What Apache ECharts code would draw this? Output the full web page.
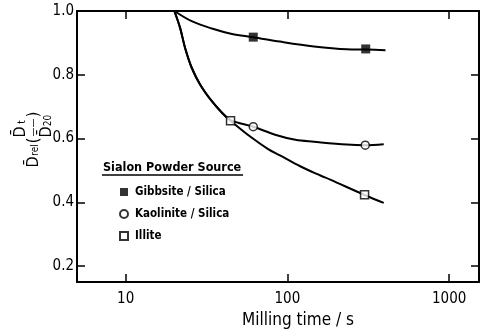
<!DOCTYPE html>
<html>
<head>
<meta charset="utf-8">
<script src="https://cdn.jsdelivr.net/npm/echarts@6/dist/echarts.min.js"></script>
<style>
  html, body { margin: 0; padding: 0; background: #fff; }
  #chart { width: 483px; height: 333px; }
</style>
</head>
<body>
<div id="chart"></div>
<script>
// curves (milling time in s, relative size)
const gibbsiteCurveX = [20, 25.6, 34.1, 45.4, 61.5, 90, 146, 233, 310, 404]
const gibbsiteCurveY = [1.0, 0.968, 0.945, 0.928, 0.918, 0.904, 0.889, 0.880, 0.879, 0.877]

const kaoliniteCurveX = [20, 21.7, 23.3, 25.6, 28.9, 34.1, 39.4, 44.5, 61.5, 84, 112, 146, 233, 303, 394]
const kaoliniteCurveY = [1.0, 0.947, 0.884, 0.822, 0.769, 0.717, 0.681, 0.658, 0.637, 0.612, 0.596, 0.590, 0.581, 0.579, 0.582]

const illiteCurveX = [20, 21.7, 23.3, 25.6, 28.9, 34.1, 39.4, 44.5, 60, 76, 90, 120, 160, 184, 300, 394]
const illiteCurveY = [1.0, 0.947, 0.884, 0.822, 0.769, 0.717, 0.681, 0.656, 0.603, 0.567, 0.547, 0.513, 0.484, 0.471, 0.423, 0.398]

// measured points
const gibbsitePtsX = [61.5, 305]
const gibbsitePtsY = [0.918, 0.881]
const kaolinitePtsX = [61.5, 303]
const kaolinitePtsY = [0.637, 0.579]
const illitePtsX = [44.5, 300]
const illitePtsY = [0.656, 0.424]

const yTicks = [0.2, 0.4, 0.6, 0.8, 1.0]
const seriesNames = ['Gibbsite / Silica', 'Kaolinite / Silica', 'Illite']

const FONT = 'DejaVu Sans Condensed'

const pairs = (xs, ys) => xs.map((x, i) => [x, ys[i]])

const chart = echarts.init(document.getElementById('chart'))

const xBase = {
  type: 'log',
  logBase: 10,
  min: 5,
  max: 1530,
  axisLine: { lineStyle: { color: '#000', width: 2 } },
  axisTick: { inside: true, length: 8, lineStyle: { color: '#000', width: 1.5 } },
  minorTick: { show: false },
  splitLine: { show: false }
}

const yBase = {
  type: 'value',
  min: 0.15,
  max: 1.0,
  axisLine: { show: true, lineStyle: { color: '#000', width: 2 } },
  axisTick: { inside: true, length: 8, customValues: yTicks, lineStyle: { color: '#000', width: 1.5 } },
  splitLine: { show: false }
}

const curveStyle = {
  type: 'line',
  smooth: 0.35,
  symbol: 'none',
  lineStyle: { color: '#000', width: 2 },
  silent: true,
  z: 2
}

// y axis title: D̄rel ( D̄t / D̄20 ), every line 70px wide so they stack
const yName = [
  '{g1|}{n|D\u0304}{st|t}{g2|}',
  '{g0|}{n|D\u0304}{sr|rel}{p|(}{bar|——}{p|)}',
  '{g1|}{n|D\u0304}{s20|20}{g3|}'
].join('\n')

const LH = 13
const richName = {
  g0: { width: 14, lineHeight: LH },
  g1: { width: 44, lineHeight: LH },
  g2: { width: 6, lineHeight: LH },
  g3: { width: 3, lineHeight: LH },
  n: { fontSize: 16, fontFamily: FONT, color: '#000', width: 11, lineHeight: LH },
  st: { fontSize: 10, fontFamily: FONT, color: '#000', verticalAlign: 'bottom', width: 9, lineHeight: LH },
  s20: { fontSize: 10, fontFamily: FONT, color: '#000', verticalAlign: 'bottom', width: 12, lineHeight: LH },
  sr: { fontSize: 10, fontFamily: FONT, color: '#000', verticalAlign: 'bottom', width: 13, lineHeight: LH },
  p: { fontSize: 16, fontFamily: FONT, color: '#000', width: 6, lineHeight: LH },
  bar: { fontSize: 10, fontFamily: FONT, color: '#000', width: 20, lineHeight: LH }
}

const option = {
  animation: false,
  textStyle: { fontFamily: FONT },
  grid: { left: 77, right: 4, top: 11, bottom: 51, containLabel: false, outerBoundsMode: 'none' },
  xAxis: [
    {
      ...xBase,
      position: 'bottom',
      name: 'Milling time / s',
      nameLocation: 'middle',
      nameGap: 30,
      nameMoveOverlap: false,
      nameTextStyle: { fontFamily: FONT, fontSize: 17, color: '#000', padding: [0, 0, 0, 40] },
      axisLabel: {
        color: '#000', fontFamily: FONT, fontSize: 15, margin: 10,
        showMinLabel: false, showMaxLabel: false,
        formatter: v => String(Math.round(v))
      }
    },
    { ...xBase, position: 'top', axisLabel: { show: false } }
  ],
  yAxis: [
    {
      ...yBase,
      position: 'left',
      name: yName,
      nameLocation: 'middle',
      nameRotate: 90,
      nameGap: 24,
      nameMoveOverlap: false,
      nameTextStyle: { color: '#000', fontFamily: FONT, align: 'center', rich: richName },
      axisLabel: {
        color: '#000', fontFamily: FONT, fontSize: 15, margin: 3,
        customValues: yTicks,
        formatter: v => v.toFixed(1)
      }
    },
    { ...yBase, position: 'right', axisLabel: { show: false } }
  ],
  legend: {
    orient: 'vertical',
    left: 114,
    top: 181,
    itemGap: 10,
    itemWidth: 8,
    itemHeight: 8,
    selectedMode: false,
    textStyle: { fontFamily: FONT, fontSize: 11.5, fontWeight: 'bold', color: '#000', padding: [0, 0, 0, 2] },
    data: [
      { name: seriesNames[0], icon: 'rect' },
      { name: seriesNames[1], icon: 'circle' },
      { name: seriesNames[2], icon: 'rect' }
    ]
  },
  graphic: [
    {
      type: 'text',
      left: 103,
      top: 161,
      style: { text: 'Sialon Powder Source', fontFamily: FONT, fontSize: 12.5, fontWeight: 'bold', fill: '#000' }
    },
    {
      type: 'line',
      shape: { x1: 102, y1: 175, x2: 243, y2: 175 },
      style: { stroke: '#000', lineWidth: 1.5 }
    }
  ],
  series: [
    { ...curveStyle, name: 'gibbsite curve', data: pairs(gibbsiteCurveX, gibbsiteCurveY) },
    { ...curveStyle, name: 'kaolinite curve', data: pairs(kaoliniteCurveX, kaoliniteCurveY) },
    { ...curveStyle, name: 'illite curve', data: pairs(illiteCurveX, illiteCurveY) },
    {
      name: seriesNames[0],
      type: 'scatter',
      symbol: 'rect',
      symbolSize: 9,
      itemStyle: { color: '#000' },
      data: pairs(gibbsitePtsX, gibbsitePtsY),
      z: 5
    },
    {
      name: seriesNames[1],
      type: 'scatter',
      symbol: 'circle',
      symbolSize: 8,
      itemStyle: { color: '#fff', borderColor: '#000', borderWidth: 1.5 },
      data: pairs(kaolinitePtsX, kaolinitePtsY),
      z: 5
    },
    {
      name: seriesNames[2],
      type: 'scatter',
      symbol: 'rect',
      symbolSize: 8,
      itemStyle: { color: '#fff', borderColor: '#000', borderWidth: 1.5 },
      data: pairs(illitePtsX, illitePtsY),
      z: 5
    }
  ]
}

chart.setOption(option)
</script>
</body>
</html>
